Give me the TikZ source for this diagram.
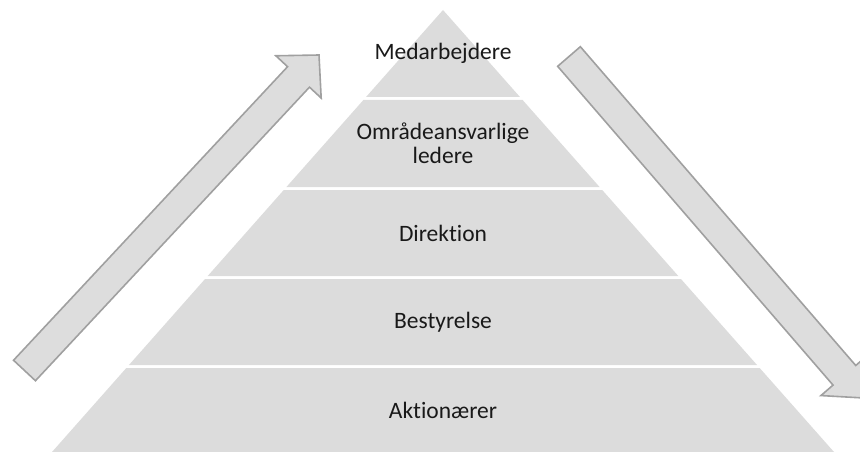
\documentclass[tikz,border=0pt]{standalone}
\usepackage{fontspec}
\setmainfont{Carlito}[Ligatures={NoCommon}]
\usetikzlibrary{calc}

\definecolor{layergray}{HTML}{DCDCDC}
\definecolor{arrowfill}{HTML}{DDDDDD}
\definecolor{arrowline}{HTML}{A0A0A0}

\tikzset{
  layer/.style      = {fill=layergray, draw=none},
  layertext/.style  = {align=center, text=black!90,
                       font=\fontsize{23.5}{23.5}\selectfont},
  blockarrow/.style = {fill=arrowfill, draw=arrowline,
                       line width=1.6pt, line join=miter}
}

\begin{document}
\begin{tikzpicture}[x=1pt, y=-1pt]
\useasboundingbox (0,0) rectangle (860,452);

% pyramid layers: top / bottom / name / text
\foreach \top/\bot/\name/\txt in {
    10/97/staff/{Medarbejdere},
    100/187/managers/{Områdeansvarlige\\ledere},
    190/276/direction/{Direktion},
    279/365/board/{Bestyrelse},
    368/452/owners/{Aktionærer}}{
  \pgfmathsetmacro\wtop{0.88462*(\top-10)}
  \pgfmathsetmacro\wbot{0.88462*(\bot-10)}
  \fill[layer] (443-\wtop,\top) -- (443+\wtop,\top)
               -- (443+\wbot,\bot) -- (443-\wbot,\bot) -- cycle;
  \node[layertext] (\name) at (443,{(\top+\bot)/2}) {\txt};
}

% block arrows
\coordinate (uptail)   at (24.5,370.5);
\coordinate (uptip)    at (319,55);
\coordinate (downtail) at (569,56.5);
\coordinate (downtip)  at (864,398);

\foreach \a in {up,down}{
  \coordinate (\a base) at ($(\a tip)!30pt!(\a tail)$);
  \draw[blockarrow]
    ($(\a tail)!15pt!90:(\a tip)$) -- ($(\a base)!15pt!90:(\a tip)$)
    -- ($(\a base)!31pt!90:(\a tip)$) -- (\a tip)
    -- ($(\a base)!31pt!-90:(\a tip)$) -- ($(\a base)!15pt!-90:(\a tip)$)
    -- ($(\a tail)!15pt!-90:(\a tip)$) -- cycle;
}
\end{tikzpicture}
\end{document}
